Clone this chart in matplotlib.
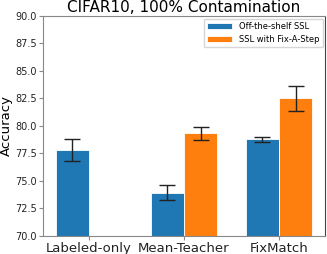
import matplotlib
matplotlib.use('Agg')
import matplotlib.pyplot as plt
import numpy as np

methods = ['Labeled-only', 'Mean-Teacher', 'FixMatch']
ssl_mean = [77.8, 73.95, 78.8]
ssl_err = [1.0, 0.68, 0.23]
fas_methods = ['Mean-Teacher', 'FixMatch']
fas_mean = [79.35, 82.5]
fas_err = [0.6, 1.15]

fig = plt.figure(figsize=(3.27, 2.54), dpi=100)
ax = fig.add_axes([0.131, 0.071, 0.863, 0.866])

x = np.arange(len(methods))
w = 0.35
xf = np.array([methods.index(m) for m in fas_methods])

ax.bar(x - w/2, ssl_mean, w, yerr=ssl_err, capsize=5.5, color='#1f77b4',
       edgecolor='white', linewidth=0.6, label='Off-the-shelf SSL',
       error_kw=dict(elinewidth=1, capthick=1, ecolor='#222222'))
ax.bar(xf + w/2, fas_mean, w, yerr=fas_err, capsize=5.5, color='#ff7f0e',
       edgecolor='white', linewidth=0.6, label='SSL with Fix-A-Step',
       error_kw=dict(elinewidth=1, capthick=1, ecolor='#222222'))

ax.set_ylim(70, 90)
ax.set_yticks(np.arange(70, 90.1, 2.5))
ax.set_yticklabels(['%.1f' % v for v in np.arange(70, 90.1, 2.5)], fontsize=7)
ax.set_xticks(x)
ax.set_xticklabels(methods, fontsize=9.5)
ax.set_ylabel('Accuracy', fontsize=9.5)
ax.yaxis.set_label_coords(-0.106, 0.5)
ax.set_title('CIFAR10, 100% Contamination', fontsize=11, pad=3)

for s in ['left', 'bottom', 'top']:
    ax.spines[s].set_color('#888888')
ax.spines['right'].set_color('#444444')
ax.tick_params(colors='#888888', labelcolor='#222222', length=3, pad=1.5)

ax.legend(loc='upper right', fontsize=6, frameon=True, handlelength=3,
          borderaxespad=0.3)

fig.savefig('out.png', dpi=100)
